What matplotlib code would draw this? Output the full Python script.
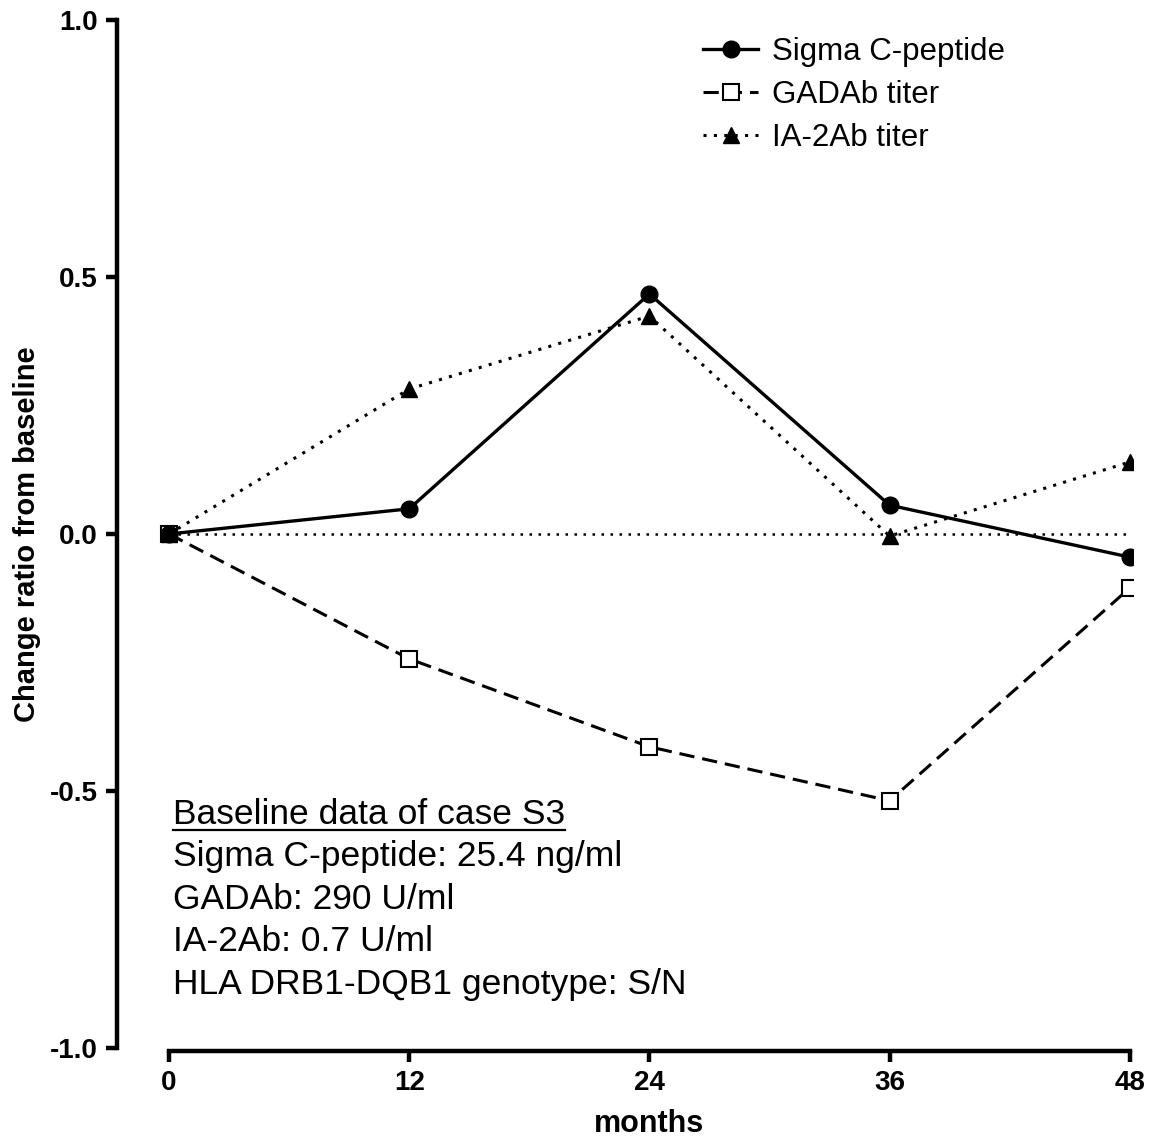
import matplotlib
matplotlib.use("Agg")
import matplotlib.pyplot as plt

plt.rcParams['font.family'] = ['Liberation Sans', 'DejaVu Sans']

months = [0, 12, 24, 36, 48]
sigma_cpep = [0.0, 0.049, 0.467, 0.056, -0.045]
gadab = [0.0, -0.243, -0.414, -0.519, -0.105]
ia2ab = [0.0, 0.282, 0.424, -0.004, 0.140]
xticks = [0, 12, 24, 36, 48]
yticks = [-1.0, -0.5, 0.0, 0.5, 1.0]
yticklabels = ['-1.0', '-0.5', '0.0', '0.5', '1.0']
info_title = "Baseline data of case S3"
info_lines = ["Sigma C-peptide: 25.4 ng/ml", "GADAb: 290 U/ml",
              "IA-2Ab: 0.7 U/ml", "HLA DRB1-DQB1 genotype: S/N"]

fig = plt.figure(figsize=(11.57, 11.41), dpi=100)
ax = fig.add_axes([0.1011, 0.0815, 0.878, 0.901])

ax.plot([months[0], months[-1]], [0, 0], color='black', lw=1.8,
        linestyle=(0, (1, 2.6)), zorder=1)

l2, = ax.plot(months, gadab, color='black', lw=2.2, linestyle=(0, (5, 2.6)),
              marker='s', markersize=11, markerfacecolor='white', markeredgecolor='black',
              markeredgewidth=1.5, zorder=3, label='GADAb titer')
l3, = ax.plot(months, ia2ab, color='black', lw=2.2, linestyle=(0, (1, 2.4)),
              marker='^', markersize=11, markerfacecolor='black', markeredgecolor='black',
              zorder=4, label='IA-2Ab titer')
l1, = ax.plot(months, sigma_cpep, color='black', lw=2.4, linestyle='-',
              marker='o', markersize=12, markerfacecolor='black', markeredgecolor='black',
              zorder=5, label='Sigma C-peptide')

ax.set_xlim(-2.6, 48.15)
ax.set_ylim(-1.0, 1.0)
for s in ['top', 'right']:
    ax.spines[s].set_visible(False)
ax.spines['left'].set_linewidth(3.2)
ax.spines['bottom'].set_linewidth(3.2)
ax.spines['bottom'].set_bounds(0, 48)
ax.spines['bottom'].set_position(('outward', 2))

ax.set_xticks(xticks)
ax.set_xticklabels([str(x) for x in xticks])
ax.set_yticks(yticks)
ax.set_yticklabels(yticklabels)
ax.tick_params(axis='both', which='major', length=8, width=3.2, labelsize=20, pad=6)
for lab in ax.get_xticklabels() + ax.get_yticklabels():
    lab.set_fontweight('bold')

ax.set_xlabel('months', fontsize=22, fontweight='bold', va='center')
ax.xaxis.set_label_coords((649 - 117) / 1016, (1048 - 1124) / 1028)
ax.set_ylabel('Change ratio from baseline', fontsize=21, fontweight='bold', va='center')
ax.yaxis.set_label_coords((27 - 117) / 1016, 0.5)

leg = ax.legend(handles=[l1, l2, l3], loc='upper left', bbox_to_anchor=(0.565, 0.996),
                frameon=False, fontsize=22.5, handlelength=1.75, handletextpad=0.45,
                labelspacing=0.42, borderaxespad=0)

ax.text(0.055, 0.218, info_title, transform=ax.transAxes,
        fontsize=25.5, va='baseline', ha='left')
fig.canvas.draw()
t = ax.texts[-1]
bb = t.get_window_extent(renderer=fig.canvas.get_renderer())
inv = ax.transAxes.inverted()
(x0, y0), (x1, y1) = inv.transform([[bb.x0, bb.y0], [bb.x1, bb.y0]])
ax.plot([x0, x1], [0.2125, 0.2125], transform=ax.transAxes, color='black', lw=1.6,
        clip_on=False)

for i, line in enumerate(info_lines):
    ax.text(0.055, 0.218 - (i + 1) * 0.0413, line, transform=ax.transAxes,
            fontsize=25.5, va='baseline', ha='left')

fig.savefig('out.png', dpi=100)
